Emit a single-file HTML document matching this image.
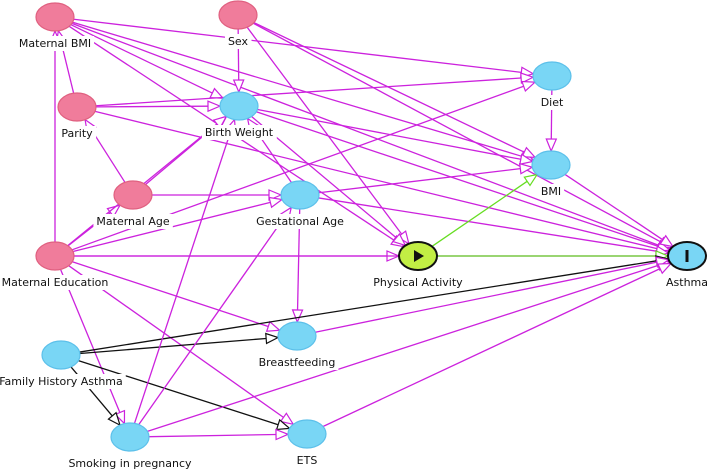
<!DOCTYPE html>
<html><head><meta charset="utf-8"><style>
html,body{margin:0;padding:0;background:#fff;width:708px;height:473px;overflow:hidden}
svg{display:block;font-family:"DejaVu Sans","Liberation Sans",sans-serif;font-size:11px}
</style></head><body>
<svg id="s" width="708" height="473" viewBox="0 0 708 473" xmlns="http://www.w3.org/2000/svg">
<g id="edges"></g><g id="labels"></g><g id="nodes"></g>
</svg>
<script>
var N={
MB:[55,17,'Maternal BMI','p'],SX:[238,15,'Sex','p'],PA:[77,107,'Parity','p'],BW:[239,106,'Birth Weight','b'],
MA:[133,195,'Maternal Age','p'],GA:[300,195,'Gestational Age','b'],ME:[55,256,'Maternal Education','p'],
PH:[418,256,'Physical Activity','e'],AS:[687,256,'Asthma','o'],DI:[552,76,'Diet','b'],BM:[551,165,'BMI','b'],
BF:[297,336,'Breastfeeding','b'],FH:[61,355,'Family History Asthma','b'],SM:[130,437,'Smoking in pregnancy','b'],ET:[307,434,'ETS','b']};
var M='#cc22dd',G='#66dd22',K='#111';
var E=[
['MB','BW',M],['MB','DI',M],['MB','BM',M],['MB','AS',M],['MB','PH',M],
['SX','BW',M],['SX','BM',M],['SX','PH',M],['SX','AS',M],
['PA','MB',M],['PA','BW',M],['PA','DI',M],['PA','AS',M],
['MA','PA',M],['MA','BW',M],['MA','GA',M],
['BW','BM',M],['BW','AS',M],['BW','PH',M],
['GA','BW',M],['GA','BF',M],['GA','BM',M],['GA','AS',M],
['ME','MB',M],['ME','MA',M],['ME','BW',M],['ME','GA',M],['ME','PH',M],['ME','BF',M],['ME','ET',M],['ME','SM',M],['ME','DI',M],['ME','AS',M],
['PH','BM',G],['PH','AS',G],['DI','BM',M],['BM','AS',M],
['FH','BF',K],['FH','AS',K],['FH','SM',K],['FH','ET',K],
['SM','ET',M],['SM','BW',M],['SM','GA',M],['SM','AS',M],
['BF','AS',M],['ET','AS',M]];
var ns='http://www.w3.org/2000/svg',eg=document.getElementById('edges'),lg=document.getElementById('labels'),ng=document.getElementById('nodes');
function el(t,a,p){var e=document.createElementNS(ns,t);for(var k in a)e.setAttribute(k,a[k]);p.appendChild(e);return e;}
var RX=19,RY=14;
function bnd(n,dx,dy){var t=1/Math.sqrt(dx*dx/(RX*RX)+dy*dy/(RY*RY));return [n[0]+dx*t,n[1]+dy*t];}
E.forEach(function(e){var a=N[e[0]],b=N[e[1]],dx=b[0]-a[0],dy=b[1]-a[1];
var s=bnd(a,dx,dy),t=bnd(b,-dx,-dy),L=Math.hypot(dx,dy),ux=dx/L,uy=dy/L;
var bx=t[0]-ux*12,by=t[1]-uy*12;
el('line',{x1:s[0],y1:s[1],x2:bx,y2:by,stroke:e[2],'stroke-width':1.3},eg);
var px=-uy*5,py=ux*5;
el('polygon',{points:t[0]+','+t[1]+' '+(bx+px)+','+(by+py)+' '+(bx-px)+','+(by-py),fill:'#fff',stroke:e[2],'stroke-width':1.2},eg);});
for(var k in N){var n=N[k];
var tx=el('text',{x:n[0],y:n[1]+30,'text-anchor':'middle',fill:'#111'},lg);tx.textContent=n[2];
var bb=tx.getBBox();var r=el('rect',{x:bb.x-3,y:bb.y-1,width:bb.width+6,height:bb.height+2,fill:'#fff'},lg);lg.insertBefore(r,tx);
var f=n[3]=='p'?'#f07c9b':n[3]=='e'?'#c2ee44':'#79d6f5',st=n[3]=='p'?'#e06080':n[3]=='b'?'#5cc0ea':'#111',sw=(n[3]=='e'||n[3]=='o')?2:1.2;
el('ellipse',{cx:n[0],cy:n[1],rx:RX,ry:RY,fill:f,stroke:st,'stroke-width':sw},ng);
if(n[3]=='e')el('polygon',{points:(n[0]-4)+','+(n[1]-6)+' '+(n[0]+6)+','+n[1]+' '+(n[0]-4)+','+(n[1]+6),fill:'#111'},ng);
if(n[3]=='o')el('rect',{x:n[0]-1.5,y:n[1]-6,width:3,height:12,fill:'#111'},ng);}
</script>
</body></html>
